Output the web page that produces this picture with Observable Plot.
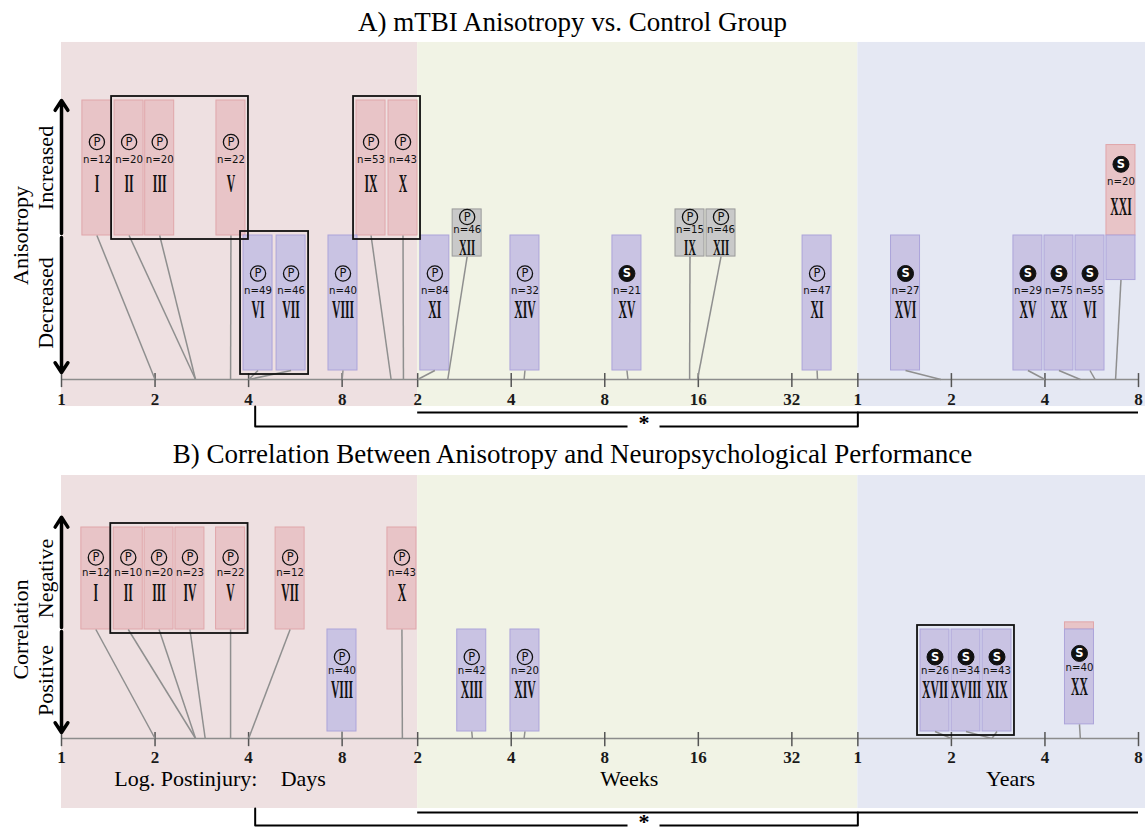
<!DOCTYPE html>
<html>
<head>
<meta charset="utf-8">
<script src="https://cdn.jsdelivr.net/npm/d3@7"></script>
<script src="https://cdn.jsdelivr.net/npm/@observablehq/plot@0.6"></script>
<style>
  html, body { margin: 0; padding: 0; background: #fff; }
  body { width: 1145px; }
  .title { font-family: "Liberation Serif", "Times New Roman", serif; font-size: 27px; color: #000; text-align: center; white-space: nowrap; }
  #title-a { height: 40px; line-height: 44px; }
  #title-b { height: 36px; line-height: 36px; }
  svg { display: block; }
</style>
</head>
<body>
<div class="title" id="title-a">A) mTBI Anisotropy vs. Control Group</div>
<div id="panel-a"></div>
<div class="title" id="title-b">B) Correlation Between Anisotropy and Neuropsychological Performance</div>
<div id="panel-b"></div>
<script>
// ---- time units and axis ticks -------------------------------------------
const unitDays = { days: 1, weeks: 7, years: 365.25 };
const inDays = ([t, unit]) => t * unitDays[unit];

const dayTicks = [1, 2, 4, 8];
const weekTicks = [2, 4, 8, 16, 32];
const yearTicks = [1, 2, 4, 8];

const periods = [
  { name: "Days",  start: [1, "days"],  end: [2, "weeks"],   labelAt: [6, "days"] },
  { name: "Weeks", start: [2, "weeks"], end: [1, "years"],   labelAt: [9.6, "weeks"] },
  { name: "Years", start: [1, "years"], end: [8.5, "years"], labelAt: [3.1, "years"] }
];
const axisTitle = "Log. Postinjury:";

// ---- studies ----------------------------------------------------------------
// up / down: share of the study's tile in the upper / lower row
// time: postinjury time of the scan; tile: where the study tile sits (days)
// design: P = prospective, S = cross-sectional; group: studies outlined together
const anisotropyStudies = [
  { study: "I",    n: 12, design: "P", up: 1,    down: 0,    time: [2, "days"],     tile: 1.3,   group: null },
  { study: "II",   n: 20, design: "P", up: 1,    down: 0,    time: [2.7, "days"],   tile: 1.65,  group: "a" },
  { study: "III",  n: 20, design: "P", up: 1,    down: 0,    time: [2.7, "days"],   tile: 2.07,  group: "a" },
  { study: "V",    n: 22, design: "P", up: 1,    down: 0,    time: [3.5, "days"],   tile: 3.51,  group: "a" },
  { study: "VI",   n: 49, design: "P", up: 0,    down: 1,    time: [4, "days"],     tile: 4.29,  group: "c" },
  { study: "VII",  n: 46, design: "P", up: 0,    down: 1,    time: [4, "days"],     tile: 5.48,  group: "c" },
  { study: "VIII", n: 40, design: "P", up: 0,    down: 1,    time: [8, "days"],     tile: 8.05,  group: null },
  { study: "IX",   n: 53, design: "P", up: 1,    down: 0,    time: [11.5, "days"],  tile: 9.91,  group: "b" },
  { study: "X",    n: 43, design: "P", up: 1,    down: 0,    time: [12.6, "days"],  tile: 12.56, group: "b" },
  { study: "XI",   n: 84, design: "P", up: 0,    down: 1,    time: [2, "weeks"],    tile: 15.9,  group: null },
  { study: "XII",  n: 46, design: "P", up: 0,    down: 0,    time: [2.5, "weeks"],  tile: 20.2,  group: null },
  { study: "XIV",  n: 32, design: "P", up: 0,    down: 1,    time: [4.4, "weeks"],  tile: 31,    group: null },
  { study: "XV",   n: 21, design: "S", up: 0,    down: 1,    time: [9.5, "weeks"],  tile: 66,    group: null },
  { study: "IX",   n: 15, design: "P", up: 0,    down: 0,    time: [15, "weeks"],   tile: 105.3, group: null },
  { study: "XII",  n: 46, design: "P", up: 0,    down: 0,    time: [15.9, "weeks"], tile: 132.5, group: null },
  { study: "XI",   n: 47, design: "P", up: 0,    down: 1,    time: [38.7, "weeks"], tile: 270,   group: null },
  { study: "XVI",  n: 27, design: "S", up: 0,    down: 1,    time: [1.85, "years"], tile: 520,   group: null },
  { study: "XV",   n: 29, design: "S", up: 0,    down: 1,    time: [4, "years"],    tile: 1288,  group: null },
  { study: "XX",   n: 75, design: "S", up: 0,    down: 1,    time: [5.2, "years"],  tile: 1621,  group: null },
  { study: "VI",   n: 55, design: "S", up: 0,    down: 1,    time: [5.8, "years"],  tile: 2040,  group: null },
  { study: "XXI",  n: 20, design: "S", up: 0.67, down: 0.33, time: [6.75, "years"], tile: 2566,  group: null }
];
const anisotropyRows = ["Decreased", "Increased"];
const anisotropyMeasure = "Anisotropy";

const correlationStudies = [
  { study: "I",     n: 12, design: "P", up: 1,    down: 0,    time: [2, "days"],    tile: 1.29,  group: null },
  { study: "II",    n: 10, design: "P", up: 1,    down: 0,    time: [2.7, "days"],  tile: 1.64,  group: "a" },
  { study: "III",   n: 20, design: "P", up: 1,    down: 0,    time: [2.7, "days"],  tile: 2.06,  group: "a" },
  { study: "IV",    n: 23, design: "P", up: 1,    down: 0,    time: [2.9, "days"],  tile: 2.59,  group: "a" },
  { study: "V",     n: 22, design: "P", up: 1,    down: 0,    time: [3.5, "days"],  tile: 3.5,   group: "a" },
  { study: "VII",   n: 12, design: "P", up: 1,    down: 0,    time: [4, "days"],    tile: 5.44,  group: null },
  { study: "VIII",  n: 40, design: "P", up: 0,    down: 1,    time: [8, "days"],    tile: 7.99,  group: null },
  { study: "X",     n: 43, design: "P", up: 1,    down: 0,    time: [12.5, "days"], tile: 12.46, group: null },
  { study: "XIII",  n: 42, design: "P", up: 0,    down: 1,    time: [3, "weeks"],   tile: 20.9,  group: null },
  { study: "XIV",   n: 20, design: "P", up: 0,    down: 1,    time: [4.4, "weeks"], tile: 31,    group: null },
  { study: "XVII",  n: 26, design: "S", up: 0,    down: 1,    time: [2, "years"],   tile: 647,   group: "d" },
  { study: "XVIII", n: 34, design: "S", up: 0,    down: 1,    time: [2.7, "years"], tile: 814,   group: "d" },
  { study: "XIX",   n: 43, design: "S", up: 0,    down: 1,    time: [2.7, "years"], tile: 1024,  group: "d" },
  { study: "XX",    n: 40, design: "S", up: 0.07, down: 0.93, time: [5.2, "years"], tile: 1887,  group: null }
];
const correlationRows = ["Positive", "Negative"];
const correlationMeasure = "Correlation";

// spans compared beneath each timeline
const comparisons = [
  { start: [2, "weeks"], end: [8, "years"] },
  { start: [4.2, "days"], end: [1, "years"], label: "*", labelAt: [10.7, "weeks"] }
];

// ---- styling ------------------------------------------------------------------
const SERIF = "Liberation Serif, Times New Roman, serif";
const NUMERAL_FONT = "Liberation Serif, Tinos, serif";
const SANS = "DejaVu Sans Condensed, DejaVu Sans, sans-serif";
const periodFill = { Days: "#EEE0E1", Weeks: "#F1F3E5", Years: "#E5E8F3" };
const tileStyle = {
  up:   { fill: "#E8C4C7", stroke: "#E0A6AA" },
  down: { fill: "#C9C3E3", stroke: "#ACA4DA" },
  none: { fill: "#C9C9C9", stroke: "#9A9A9A" }
};
const TILE_HALF = 14.5;

const layoutA = {
  height: 396, yRange: [330, 60],
  region: [-0.267, 2.43], axis: -0.0667, tick: [0.044, 0.06], tickLabel: -0.215,
  arrow: [-0.015, 2.0], none: [0.844, 1.193],
  sigLine: -0.311, sigBracket: -0.415,
  offsets: { up: [-26, -9, 16], down: [-29.5, -12.5, 7], none: [-16, -4, 14.5] },
  numeralSize: { up: 26, down: 26, none: 24 },
  periodLabel: null
};
const layoutB = {
  height: 356, yRange: [259, 55],
  region: [-0.755, 2.51], axis: -0.0686, tick: [0.059, 0.08], tickLabel: -0.255,
  arrow: [-0.01, 2.1], none: [0.8, 1.2],
  sigLine: -0.794, sigBracket: -0.922,
  offsets: { up: [-21, -6, 14], down: [-23.5, -10, 9.5], none: [-15, -2, 13] },
  numeralSize: { up: 26, down: 26, none: 24 },
  periodLabel: -0.461
};

const ticks = [
  ...dayTicks.map(v => ({ at: inDays([v, "days"]), label: String(v) })),
  ...weekTicks.map(v => ({ at: inDays([v, "weeks"]), label: String(v) })),
  ...yearTicks.map(v => ({ at: inDays([v, "years"]), label: String(v) }))
];

function drawPanel(studies, rows, measure, L) {
  const tiles = [], labels = [], links = [];
  for (const s of studies) {
    const parts = [];
    if (s.up > 0) parts.push({ kind: "up", y1: 1, y2: 1 + s.up, share: s.up });
    if (s.down > 0) parts.push({ kind: "down", y1: 1 - s.down, y2: 1, share: s.down });
    if (!parts.length) parts.push({ kind: "none", y1: L.none[0], y2: L.none[1], share: 1 });
    parts.forEach(p => tiles.push({ ...p, s }));
    const main = parts.reduce((a, b) => (b.share > a.share ? b : a));
    labels.push({ s, kind: main.kind, y: (main.y1 + main.y2) / 2 });
    links.push({ s, y: d3.min(parts, p => p.y1) });
  }
  const groups = d3.groups(tiles.filter(t => t.s.group), t => t.s.group).map(([key, ts]) => ({
    key,
    x1: d3.min(ts, t => t.s.tile), x2: d3.max(ts, t => t.s.tile),
    y1: d3.min(ts, t => t.y1), y2: d3.max(ts, t => t.y2)
  }));
  const axisStart = d3.min(ticks, t => t.at), axisEnd = d3.max(ticks, t => t.at);
  const tx = d => d.s.tile;

  const marks = [];
  // period backgrounds
  for (const p of periods) {
    marks.push(Plot.rect([p], {
      x1: d => inDays(d.start), x2: d => inDays(d.end),
      y1: () => L.region[0], y2: () => L.region[1], fill: periodFill[p.name]
    }));
  }
  // time axis
  marks.push(
    Plot.ruleY([L.axis], { y: d => d, x1: () => axisStart, x2: () => axisEnd, stroke: "#8c8c8c", strokeWidth: 1.6 }),
    Plot.ruleX(ticks, { x: "at", y1: () => L.axis - L.tick[1], y2: () => L.axis + L.tick[0], stroke: "#555", strokeWidth: 1.5 }),
    Plot.text(ticks, { x: "at", y: () => L.tickLabel, text: "label", fontFamily: SERIF, fontWeight: "bold", fontSize: 17, fill: "#1a1a1a" })
  );
  // study tiles
  for (const kind of ["up", "down", "none"]) {
    const sel = tiles.filter(t => t.kind === kind);
    if (!sel.length) continue;
    marks.push(Plot.rect(sel, {
      x1: tx, x2: tx, y1: "y1", y2: "y2",
      insetLeft: -TILE_HALF, insetRight: -TILE_HALF,
      fill: tileStyle[kind].fill, stroke: tileStyle[kind].stroke, strokeWidth: 1
    }));
  }
  // leader lines from each tile to its scan time
  marks.push(Plot.link(links, {
    x1: tx, y1: "y", x2: d => inDays(d.s.time), y2: () => L.axis,
    stroke: "#8f8f8f", strokeWidth: 1.5
  }));
  // outlined study groups
  marks.push(Plot.rect(groups, {
    x1: "x1", x2: "x2", y1: "y1", y2: "y2",
    insetLeft: -(TILE_HALF + 3), insetRight: -(TILE_HALF + 3), insetTop: -4, insetBottom: -4,
    fill: "none", stroke: "#111", strokeWidth: 1.8
  }));
  // tile labels
  for (const kind of ["up", "down", "none"]) {
    const sel = labels.filter(l => l.kind === kind);
    if (!sel.length) continue;
    const [dIcon, dN, dNum] = L.offsets[kind];
    const P = sel.filter(l => l.s.design === "P");
    const S = sel.filter(l => l.s.design === "S");
    marks.push(
      Plot.dot(P, { x: tx, y: "y", dy: dIcon, r: 7.6, fill: "none", stroke: "#111", strokeWidth: 1.3 }),
      Plot.text(P, { x: tx, y: "y", dy: dIcon, text: d => d.s.design, fontFamily: "DejaVu Sans, sans-serif", fontSize: 11.5, fill: "#111" }),
      Plot.dot(S, { x: tx, y: "y", dy: dIcon, r: 8, fill: "#111", stroke: "#111", strokeWidth: 1 }),
      Plot.text(S, { x: tx, y: "y", dy: dIcon, text: d => d.s.design, fontFamily: "DejaVu Sans, sans-serif", fontWeight: "bold", fontSize: 11.5, fill: "#fff" }),
      Plot.text(sel, { x: tx, y: "y", dy: dN, text: d => "n=" + d.s.n, fontFamily: SANS, fontSize: 11.3, fill: "#111" }),
      Plot.text(sel, { x: tx, y: "y", dy: dNum, text: d => d.s.study, fontFamily: NUMERAL_FONT, fontWeight: "bold", fontSize: L.numeralSize[kind], fill: "#111" })
    );
  }
  // vertical row labels and arrows
  marks.push(
    Plot.text([measure], { frameAnchor: "left", dx: 20, y: () => 1, text: d => d, rotate: -90, textAnchor: "middle", fontFamily: SERIF, fontSize: 22, fill: "#000" }),
    Plot.text(rows.map((name, i) => ({ name, row: i + 0.5 })), { frameAnchor: "left", dx: 45, y: "row", text: "name", rotate: -90, textAnchor: "middle", fontFamily: SERIF, fontSize: 22, fill: "#000" }),
    Plot.arrow([L.arrow[1], L.arrow[0]], {
      x1: () => 1, x2: () => 1, y1: () => 1, y2: d => d,
      stroke: "#000", strokeWidth: 3.5, headLength: 5, headAngle: 66, insetStart: 2
    })
  );
  // period comparisons
  const [openSpan, bracket] = comparisons;
  marks.push(
    Plot.ruleY([L.sigLine], { y: d => d, x1: () => inDays(openSpan.start), x2: () => inDays(openSpan.end), stroke: "#000", strokeWidth: 2 }),
    Plot.line([
      [bracket.start, L.region[0]], [bracket.start, L.sigBracket],
      [bracket.end, L.sigBracket], [bracket.end, L.sigLine]
    ], { x: d => inDays(d[0]), y: d => d[1], stroke: "#000", strokeWidth: 2 }),
    Plot.rect([bracket], {
      x1: d => inDays(d.labelAt), x2: d => inDays(d.labelAt), y1: () => L.sigBracket, y2: () => L.sigBracket,
      insetLeft: -16, insetRight: -16, insetTop: -4, insetBottom: -4, fill: "#fff"
    }),
    Plot.text([bracket], { x: d => inDays(d.labelAt), y: () => L.sigBracket, dy: -4, text: "label", fontFamily: SERIF, fontWeight: "bold", fontSize: 22, fill: "#000" })
  );
  // period names
  if (L.periodLabel != null) {
    marks.push(
      Plot.text(periods, { x: d => inDays(d.labelAt), y: () => L.periodLabel, text: "name", fontFamily: SERIF, fontSize: 22, fill: "#000" }),
      Plot.text([axisTitle], { x: () => inDays(periods[0].labelAt), y: () => L.periodLabel, dx: -46, textAnchor: "end", text: d => d, fontFamily: SERIF, fontSize: 22, fill: "#000" })
    );
  }

  const svg = Plot.plot({
    width: 1145, height: L.height,
    marginTop: 0, marginRight: 0, marginBottom: 0, marginLeft: 0,
    x: { type: "log", base: 2, domain: [1, inDays([8, "years"])], range: [61, 1138], axis: null },
    y: { domain: [0, 2], range: L.yRange, axis: null },
    marks
  });
  condenseNumerals(svg);
  return svg;
}

// Roman numerals are set in a narrow face: squeeze them horizontally about their anchor.
function condenseNumerals(svg) {
  svg.querySelectorAll(`g[font-family="${NUMERAL_FONT}"] text`).forEach(t => {
    const tr = t.getAttribute("transform");
    if (tr) {
      t.setAttribute("transform", tr + " scale(0.45,1)");
    } else {
      const x = t.getAttribute("x") || 0, y = t.getAttribute("y") || 0;
      t.removeAttribute("x"); t.removeAttribute("y");
      t.setAttribute("transform", `translate(${x},${y}) scale(0.45,1)`);
    }
  });
}

document.getElementById("panel-a").append(drawPanel(anisotropyStudies, anisotropyRows, anisotropyMeasure, layoutA));
document.getElementById("panel-b").append(drawPanel(correlationStudies, correlationRows, correlationMeasure, layoutB));
</script>
</body>
</html>
